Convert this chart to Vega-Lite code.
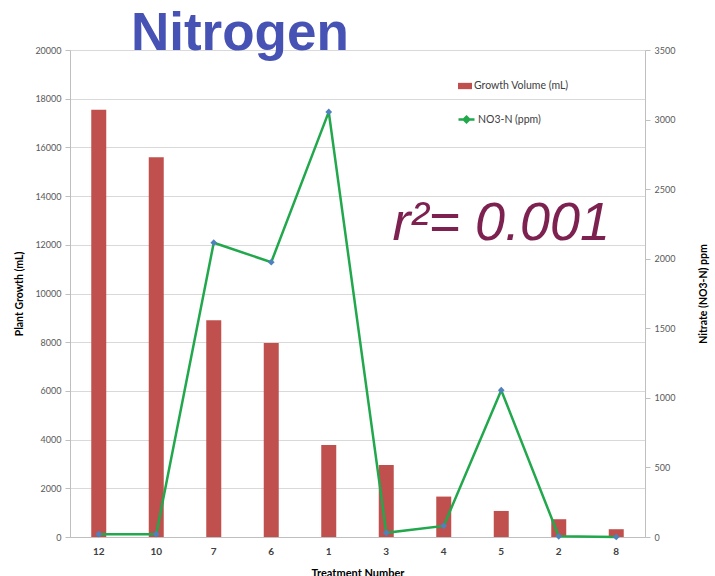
{
  "$schema": "https://vega.github.io/schema/vega-lite/v6.json",
  "width": 575,
  "height": 487,
  "autosize": {"type": "none"},
  "padding": {"left": 70, "top": 50, "right": 70, "bottom": 39},
  "background": "white",
  "title": {"text": "Nitrogen", "font": "Liberation Sans", "fontSize": 53, "fontWeight": "bold", "color": "#4652B4", "anchor": "start", "dx": 116, "offset": -57, "baseline": "alphabetic"},
  "config": {
    "view": {"stroke": null},
    "axis": {"labelFont": "Lato", "titleFont": "Lato", "domainColor": "#BFBFBF", "tickColor": "#BFBFBF", "gridColor": "#D9D9D9", "labelColor": "#595959", "titleColor": "#000000"}
  },
  "data": {
    "values": [
      {"treatment": "12", "growth": 17550, "no3": 20},
      {"treatment": "10", "growth": 15600, "no3": 20},
      {"treatment": "7", "growth": 8900, "no3": 2115},
      {"treatment": "6", "growth": 7970, "no3": 1975},
      {"treatment": "1", "growth": 3780, "no3": 3055},
      {"treatment": "3", "growth": 2960, "no3": 30},
      {"treatment": "4", "growth": 1660, "no3": 80},
      {"treatment": "5", "growth": 1070, "no3": 1055},
      {"treatment": "2", "growth": 730, "no3": 5},
      {"treatment": "8", "growth": 320, "no3": 0}
    ]
  },
  "layer": [
    {
      "layer": [
        {
          "mark": {"type": "bar", "size": 15},
          "encoding": {
            "x": {"field": "treatment", "type": "nominal", "sort": ["12", "10", "7", "6", "1", "3", "4", "5", "2", "8"],
              "scale": {"domain": ["12", "10", "7", "6", "1", "3", "4", "5", "2", "8"], "paddingInner": 0, "paddingOuter": 0},
              "axis": {"title": "Treatment Number", "labelAngle": 0, "ticks": false, "labelFontSize": 10, "labelFontWeight": "bold", "labelColor": "#404040", "labelPadding": 9, "titleFontSize": 11, "titleFontWeight": "bold", "titlePadding": 11, "domainColor": "#BFBFBF"}},
            "y": {"field": "growth", "type": "quantitative", "scale": {"domain": [0, 20000], "nice": false},
              "axis": {"title": "Plant Growth (mL)", "values": [0, 2000, 4000, 6000, 8000, 10000, 12000, 14000, 16000, 18000, 20000], "format": "d", "labelFontSize": 9, "tickSize": 5, "labelPadding": 4, "titleFontSize": 10.5, "titleFontWeight": "bold", "titlePadding": 10, "grid": true}},
            "fill": {"datum": "Growth Volume (mL)", "type": "nominal", "scale": {"range": ["#C0504D"]},
              "legend": {"title": null, "orient": "none", "legendX": 388, "legendY": 29, "padding": 0, "symbolType": "M-1,-0.45H1V0.45H-1Z", "symbolSize": 196, "symbolStrokeWidth": 0, "labelFont": "Lato", "labelFontSize": 10.5, "labelColor": "#404040", "labelOffset": 2}}
          }
        },
        {
          "data": {"values": [{"label": "r²= 0.001"}]},
          "mark": {"type": "text", "font": "Liberation Sans", "fontStyle": "italic", "fontSize": 54, "color": "#7D2250", "align": "center", "baseline": "alphabetic"},
          "encoding": {
            "x": {"datum": "5", "type": "nominal"},
            "y": {"datum": 12200, "type": "quantitative"},
            "text": {"field": "label"}
          }
        }
      ]
    },
    {
      "layer": [
        {
          "mark": {"type": "line", "strokeWidth": 2.5},
          "encoding": {
            "x": {"field": "treatment", "type": "nominal", "sort": ["12", "10", "7", "6", "1", "3", "4", "5", "2", "8"]},
            "y": {"field": "no3", "type": "quantitative", "scale": {"domain": [0, 3500], "nice": false},
              "axis": {"orient": "right", "title": "Nitrate (NO3-N)  ppm", "values": [0, 500, 1000, 1500, 2000, 2500, 3000, 3500], "format": "d", "grid": false, "labelFontSize": 9, "tickSize": 5, "labelPadding": 4, "titleFontSize": 10.5, "titleFontWeight": "bold", "titleAngle": 270, "titlePadding": 34}},
            "stroke": {"datum": "NO3-N (ppm)", "type": "nominal", "scale": {"range": ["#21A84C"]},
              "legend": {"title": null, "orient": "none", "legendX": 387, "legendY": 60, "padding": 0, "symbolType": "M-1,0H1M0,-0.35L0.35,0L0,0.35L-0.35,0Z", "symbolSize": 256, "symbolStrokeWidth": 2.5, "symbolFillColor": "#4F81BD", "labelFont": "Lato", "labelFontSize": 10.5, "labelColor": "#404040", "labelOffset": 2}}
          }
        },
        {
          "mark": {"type": "point", "shape": "diamond", "filled": true, "color": "#4F81BD", "size": 45, "opacity": 1},
          "encoding": {
            "x": {"field": "treatment", "type": "nominal", "sort": ["12", "10", "7", "6", "1", "3", "4", "5", "2", "8"]},
            "y": {"field": "no3", "type": "quantitative"}
          }
        }
      ]
    }
  ],
  "resolve": {"scale": {"y": "independent"}}
}
